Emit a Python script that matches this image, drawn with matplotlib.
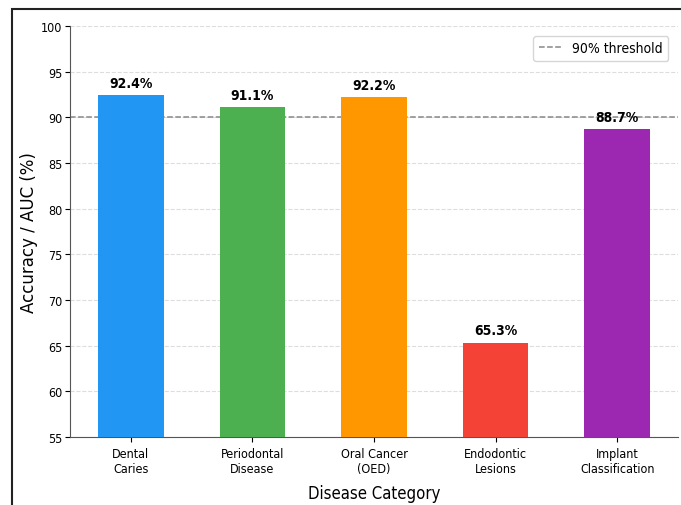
import numpy as np
import matplotlib.pyplot as plt
from matplotlib.patches import Rectangle

categories = ['Dental\nCaries', 'Periodontal\nDisease', 'Oral Cancer\n(OED)',
              'Endodontic\nLesions', 'Implant\nClassification']
values = [92.4, 91.1, 92.2, 65.3, 88.7]
colors = ['#2196F3', '#4CAF50', '#FF9800', '#F44336', '#9C27B0']
threshold = 90
yticks = [55, 60, 65, 70, 75, 80, 85, 90, 95, 100]

plt.rcParams['font.family'] = 'DejaVu Sans'
plt.rcParams['font.stretch'] = 'condensed'

W, H = 681, 506
fig = plt.figure(figsize=(W / 100, H / 100), dpi=100)
ax = fig.add_axes([70 / W, 1 - 438 / H, 608 / W, 411 / H])

x = np.arange(len(categories))
ax.bar(x, values, width=0.54, color=colors, zorder=3)
for xi, v in zip(x, values):
    ax.text(xi, v + 0.6, f'{v}%', ha='center', va='bottom',
            fontsize=10, fontweight='bold', zorder=4)

ax.axhline(threshold, color='#888888', linestyle='--', linewidth=1.1,
           label='90% threshold', zorder=2)
ax.set_xlim(-0.5, 4.5)
ax.set_ylim(55, 100)
ax.set_yticks(yticks)
ax.set_xticks(x)
ax.set_xticklabels(categories, fontsize=9)
ax.tick_params(axis='y', labelsize=9, pad=2)
ax.yaxis.grid(True, linestyle='--', color='#dddddd', linewidth=0.8, zorder=0)
ax.spines['top'].set_visible(False)
ax.spines['right'].set_visible(False)
for s in ['left', 'bottom']:
    ax.spines[s].set_color('#555555')
ax.set_ylabel('Accuracy / AUC (%)', fontsize=12, fontstretch='normal')
ax.yaxis.set_label_coords(-0.053, 0.5)
ax.set_xlabel('Disease Category', fontsize=12)
ax.xaxis.set_label_coords(0.5, -0.115)
ax.legend(loc='upper right', fontsize=10, handlelength=1.6, borderaxespad=0.7)

fig.patches.append(Rectangle((12 / W, -0.1), 1.2, 1.1 - 10 / H, transform=fig.transFigure,
                             fill=False, edgecolor='#222222', linewidth=1.5))

fig.savefig('out.png', dpi=100)
